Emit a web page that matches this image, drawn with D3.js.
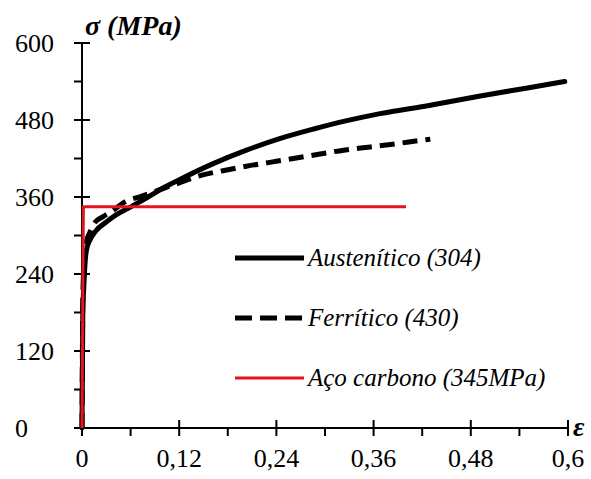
<!DOCTYPE html>
<html><head><meta charset="utf-8">
<script src="https://cdn.jsdelivr.net/npm/d3@7"></script>
</head><body style="margin:0;font-family:'Liberation Serif',Tinos,'Times New Roman',serif">
<script>
const xTicks = [0, 0.12, 0.24, 0.36, 0.48, 0.6];
const xTickLabels = ["0", "0,12", "0,24", "0,36", "0,48", "0,6"];
const yTicks = [0, 120, 240, 360, 480, 600];
const yTickLabels = ["0", "120", "240", "360", "480", "600"];
const seriesNames = ["Austenítico (304)", "Ferrítico (430)", "Aço carbono (345MPa)"];
const austenitico = [[0,0],[0.001,180],[0.002,215],[0.003,241],[0.0045,268],[0.006,280],[0.009,291],[0.017,307],[0.03,321],[0.042,332],[0.058,343],[0.075,355],[0.087,364],[0.1,374],[0.125,390],[0.162,412],[0.203,433],[0.244,451],[0.286,466],[0.327,479],[0.368,490],[0.43,503],[0.49,517],[0.55,530],[0.596,540]];
const ferritico = [[0,0],[0.001,200],[0.002,245],[0.004,280],[0.006,293],[0.009,303],[0.015,319],[0.0255,329],[0.036,337],[0.054,353],[0.073,361],[0.1,373],[0.12,382],[0.142,392],[0.174,401],[0.203,408],[0.232,414],[0.261,420],[0.294,427],[0.323,433],[0.356,438],[0.388,443],[0.417,448],[0.43,450]];
const acoCarbono = [[0,0],[0.0017,345],[0.4,345]];

const W=591,H=479;
const svg=d3.select("body").append("svg").attr("width",W).attr("height",H)
  .style("display","block").style("font-family","serif");
const x=d3.scaleLinear().domain([0,0.6]).range([82,568]);
const y=d3.scaleLinear().domain([0,600]).range([428,43]);

function txt(sel){ return sel.style("font-family","'Liberation Serif', Tinos, 'Times New Roman', serif"); }

const ax=svg.append("g").attr("stroke","#000").attr("stroke-width",2);
ax.append("line").attr("x1",x(0)).attr("x2",x(0)).attr("y1",y(0)).attr("y2",y(600));
ax.append("line").attr("x1",x(0)).attr("x2",x(0.6)).attr("y1",y(0)).attr("y2",y(0));
d3.range(0,601,60).forEach(v=>{
  const major = v%120===0;
  ax.append("line").attr("x1",x(0)-8).attr("x2",major?x(0)+8:x(0)).attr("y1",y(v)).attr("y2",y(v));
});
d3.range(0,11).forEach(i=>{
  const v=i*0.06;
  const major = i%2===0;
  ax.append("line").attr("x1",x(v)).attr("x2",x(v)).attr("y1",major?y(0)-8:y(0)).attr("y2",y(0)+8);
});

yTicks.forEach((d,i)=>{
  txt(svg.append("text")).style("font-size","26px").attr("x",15).attr("y",y(d)+9).attr("fill","#000").text(yTickLabels[i]);
});
xTicks.forEach((d,i)=>{
  txt(svg.append("text")).style("font-size","26px").attr("x",x(d)).attr("y",467).attr("text-anchor","middle").attr("fill","#000").text(xTickLabels[i]);
});

txt(svg.append("text")).style("font-size","28px").style("font-weight","bold").style("font-style","italic").attr("x",85).attr("y",35).text("σ (MPa)");
txt(svg.append("text")).style("font-size","28px").style("font-weight","bold").style("font-style","italic").attr("x",573).attr("y",436).text("ε");

const line=d3.line().x(d=>x(d[0])).y(d=>y(d[1])).curve(d3.curveMonotoneX);
const lineLin=d3.line().x(d=>x(d[0])).y(d=>y(d[1]));
svg.append("path").datum(austenitico).attr("d",line).attr("fill","none").attr("stroke","#000").attr("stroke-width",5).attr("stroke-linecap","round");
svg.append("path").datum(ferritico).attr("d",line).attr("fill","none").attr("stroke","#000").attr("stroke-width",5).attr("stroke-dasharray","15,8");
svg.append("path").datum(acoCarbono).attr("d",lineLin).attr("fill","none").attr("stroke","#e3161d").attr("stroke-width",3);

const leg=[{y:258,stroke:"#000",w:5,dash:null},{y:318,stroke:"#000",w:5,dash:"17,8"},{y:378,stroke:"#e3161d",w:3,dash:null}];
leg.forEach((l,i)=>{
  svg.append("line").attr("x1",235).attr("x2",304).attr("y1",l.y).attr("y2",l.y).attr("stroke",l.stroke).attr("stroke-width",l.w).attr("stroke-dasharray",l.dash);
  txt(svg.append("text")).style("font-size","25px").style("font-style","italic").attr("x",308).attr("y",l.y+8).attr("fill","#000").text(seriesNames[i]);
});
</script></body></html>
